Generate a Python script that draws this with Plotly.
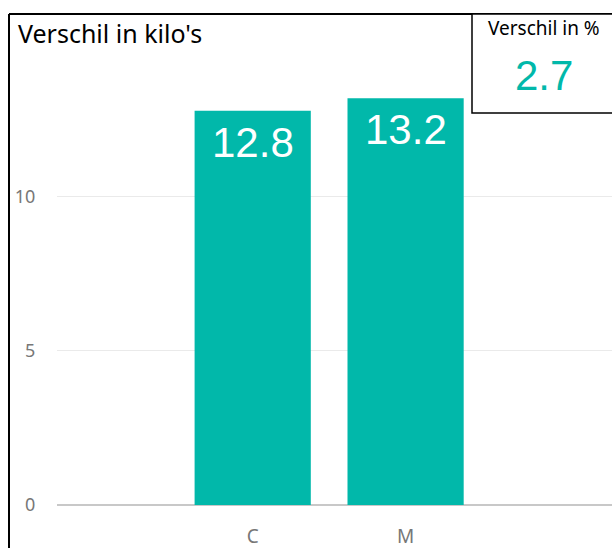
import plotly.graph_objects as go

categories = ["C", "M"]
values = [12.8, 13.2]
value_labels = ["12.8", "13.2"]
kpi_title = "Verschil in %"
kpi_value = "2.7"
chart_title = "Verschil in kilo's"
y_ticks = [0, 5, 10]

TEAL = "#01B8AA"
W, H = 612, 548
ML, MR, MT, MB = 57, 0, 58, 43
PW, PH = W - ML - MR, H - MT - MB

def px(x):
    return (x - ML) / PW

def py(y):
    return (H - MB - y) / PH

fig = go.Figure(go.Bar(
    x=categories, y=values,
    marker=dict(color=TEAL, line=dict(width=0)),
    hoverinfo="x+y",
))

for c, v, t in zip(categories, values, value_labels):
    fig.add_annotation(x=c, y=v, xref="x", yref="y", text=t, showarrow=False,
                       yanchor="top", xanchor="center", yshift=-6,
                       font=dict(family="Arial, Liberation Sans", size=42, color="white"))

fig.update_layout(
    width=W, height=H,
    margin=dict(l=ML, r=MR, t=MT, b=MB, pad=0),
    paper_bgcolor="white", plot_bgcolor="white",
    bargap=0.24, showlegend=False,
    xaxis=dict(range=[-1.28, 2.35], showgrid=False, zeroline=False, showline=False,
               ticks="outside", ticklen=14, tickcolor="rgba(0,0,0,0)",
               tickfont=dict(family="Noto Sans", size=19, color="#777777")),
    yaxis=dict(range=[0, 14.51], tickvals=y_ticks, showgrid=True, gridcolor="#eaeaea", gridwidth=1,
               zeroline=True, zerolinecolor="#c8c8c8", zerolinewidth=2, showline=False,
               ticks="outside", ticklen=17, tickcolor="rgba(0,0,0,0)",
               tickfont=dict(family="Noto Sans", size=18, color="#777777")),
    shapes=[
        dict(type="line", xref="paper", yref="paper", x0=px(9), x1=px(9), y0=py(14), y1=py(560),
             line=dict(color="black", width=2)),
        dict(type="line", xref="paper", yref="paper", x0=px(9), x1=px(620), y0=py(14), y1=py(14),
             line=dict(color="black", width=2)),
        dict(type="rect", xref="paper", yref="paper", x0=px(472), x1=px(640), y0=py(113), y1=py(14),
             line=dict(color="black", width=1.5), fillcolor="white", layer="above"),
    ],
    annotations=list(fig.layout.annotations) + [
        dict(text=chart_title, xref="paper", yref="paper", x=px(16), y=py(14),
             xanchor="left", yanchor="top", showarrow=False,
             font=dict(family="Noto Sans", size=25, color="black")),
        dict(text=kpi_title, xref="paper", yref="paper", x=px(544), y=py(28),
             xanchor="center", yanchor="middle", showarrow=False,
             font=dict(family="Noto Sans", size=19, color="black")),
        dict(text=kpi_value, xref="paper", yref="paper", x=px(543.5), y=py(75),
             xanchor="center", yanchor="middle", showarrow=False,
             font=dict(family="Arial, Liberation Sans", size=42, color=TEAL)),
    ],
)

fig.write_html("out.html", config={"displayModeBar": False},
               post_script="document.body.style.margin='0';document.body.style.overflow='hidden';")
